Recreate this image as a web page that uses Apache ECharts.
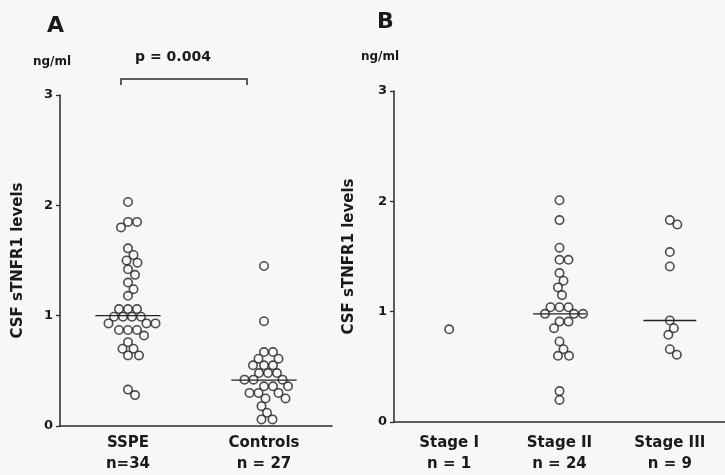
<!DOCTYPE html>
<html><head><meta charset="utf-8">
<script src="https://cdn.jsdelivr.net/npm/echarts@6/dist/echarts.min.js"></script>
<style>html,body{margin:0;padding:0;background:#f7f7f5}#c{width:725px;height:475px}</style>
</head><body><div id="c"></div>
<script>
// ---- data ----
const categoriesA = ['SSPE', 'Controls'];
const countsA = ['n=34', 'n = 27'];
const sspe = [2.03, 1.85, 1.85, 1.80, 1.61, 1.55, 1.50, 1.48, 1.42, 1.37, 1.30, 1.24, 1.18,
  1.06, 1.06, 1.06, 0.99, 0.99, 0.99, 0.99, 0.93, 0.93, 0.93, 0.87, 0.87, 0.87,
  0.82, 0.76, 0.70, 0.70, 0.64, 0.64, 0.33, 0.28];
const controls = [1.45, 0.95, 0.67, 0.67, 0.61, 0.61, 0.55, 0.55, 0.55, 0.48, 0.48, 0.48,
  0.42, 0.42, 0.42, 0.36, 0.36, 0.36, 0.30, 0.30, 0.30, 0.25, 0.25, 0.18, 0.12, 0.06, 0.06];
const mediansA = [1.0, 0.415];

const categoriesB = ['Stage I', 'Stage II', 'Stage III'];
const countsB = ['n = 1', 'n = 24', 'n = 9'];
const stageI = [0.84];
const stageII = [2.01, 1.83, 1.58, 1.47, 1.47, 1.35, 1.28, 1.22, 1.15, 1.04, 1.04, 1.04,
  0.98, 0.98, 0.98, 0.91, 0.91, 0.85, 0.73, 0.66, 0.60, 0.60, 0.28, 0.20];
const stageIII = [1.83, 1.79, 1.54, 1.41, 0.92, 0.85, 0.79, 0.66, 0.61];
const mediansB = [null, 0.98, 0.92];

const yTicks = [0, 1, 2, 3];
const yName = 'CSF sTNFR1 levels';
const unit = 'ng/ml';
const pText = 'p = 0.004';

// ---- layout ----
const gA = {left: 60, top: 95, width: 272, height: 335};
const gB = {left: 394, top: 91, width: 331, height: 333};
const FONT = 'DejaVu Sans';
const INK = '#1a1a1a';
const D = 8.6; // dot diameter in px for swarm spacing

function swarm(values, pxPerX, pxPerY) {
  const order = values.map((v, i) => i).sort((a, b) => values[b] - values[a]);
  const placed = [];
  const offs = new Array(values.length).fill(0);
  order.forEach(i => {
    const y = values[i] * pxPerY;
    let best = 0;
    for (let k = 0; k < 400; k++) {
      const cands = k === 0 ? [0] : [k * 0.5, -k * 0.5];
      let ok = null;
      for (const x of cands) {
        if (placed.every(p => Math.hypot(p.x - x, p.y - y) >= D)) { ok = x; break; }
      }
      if (ok !== null) { best = ok; break; }
    }
    placed.push({x: best, y});
    offs[i] = best / pxPerX;
  });
  return values.map((v, i) => [offs[i], v]);
}

function groupSeries(groups, grid, nCat, xIdx, yIdx) {
  const pxPerX = grid.width / nCat, pxPerY = grid.height / 3;
  return groups.map((vals, gi) => ({
    type: 'scatter', xAxisIndex: xIdx, yAxisIndex: yIdx,
    symbol: 'circle', symbolSize: 8.4,
    itemStyle: {color: '#f7f7f5', borderColor: '#222', borderWidth: 1.6},
    data: swarm(vals, pxPerX, pxPerY).map(([o, v]) => [gi + 0.5 + o, v]),
    z: 3
  }));
}
function medianSeries(meds, xIdx, yIdx, hw) {
  return meds.map((m, i) => m == null ? null : ({
    type: 'line', xAxisIndex: xIdx, yAxisIndex: yIdx, symbol: 'none', silent: true,
    lineStyle: {color: '#222', width: 1.3},
    data: [[i + 0.5 - hw, m], [i + 0.5 + hw, m]], z: 4
  })).filter(Boolean);
}

function yAxisCfg(gi, gap) {
  return {
    gridIndex: gi, type: 'value', min: 0, max: 3, interval: 1,
    name: yName, nameLocation: 'middle', nameRotate: 90, nameGap: gap,
    nameTextStyle: {fontFamily: FONT, fontWeight: 'bold', fontSize: 15, color: INK},
    axisLine: {show: true, lineStyle: {color: '#2a2a2a', width: 1.5}},
    axisTick: {show: true, length: 4, lineStyle: {color: '#2a2a2a', width: 1.3}},
    axisLabel: {fontFamily: FONT, fontWeight: 'bold', fontSize: 13, color: INK, margin: 7,
      formatter: v => yTicks.includes(v) ? String(v) : ''},
    splitLine: {show: false}
  };
}
function xCatCfg(gi, cats, counts, margin) {
  return {
    gridIndex: gi, type: 'category', data: cats.map((c, i) => c + '\n' + counts[i]),
    axisLine: {show: true, lineStyle: {color: '#2a2a2a', width: 1.5}},
    axisTick: {show: false},
    axisLabel: {fontFamily: FONT, fontWeight: 'bold', fontSize: 15, color: INK,
      lineHeight: 21, margin: margin, interval: 0}
  };
}

const chart = echarts.init(document.getElementById('c'), null, {renderer: 'canvas'});
const option = {
  backgroundColor: '#f7f7f5',
  animation: false,
  grid: [gA, gB],
  xAxis: [
    xCatCfg(0, categoriesA, countsA, 7),
    {gridIndex: 0, type: 'value', min: 0, max: 2, show: false},
    xCatCfg(1, categoriesB, countsB, 11),
    {gridIndex: 1, type: 'value', min: 0, max: 3, show: false}
  ],
  yAxis: [yAxisCfg(0, 34), yAxisCfg(1, 37)],
  series: [
    ...groupSeries([sspe, controls], gA, 2, 1, 0),
    ...medianSeries(mediansA, 1, 0, 0.24),
    ...groupSeries([stageI, stageII, stageIII], gB, 3, 3, 1),
    ...medianSeries(mediansB, 3, 1, 0.24)
  ],
  graphic: [
    {type: 'text', left: 47, top: 15, style: {text: 'A', fontFamily: FONT, fontWeight: 'bold', fontSize: 22, fill: INK}},
    {type: 'text', left: 377, top: 11, style: {text: 'B', fontFamily: FONT, fontWeight: 'bold', fontSize: 22, fill: INK}},
    {type: 'text', x: 52, y: 62, style: {text: unit, fontFamily: FONT, fontWeight: 'bold', fontSize: 12, fill: INK, align: 'center', verticalAlign: 'middle'}},
    {type: 'text', x: 380, y: 57, style: {text: unit, fontFamily: FONT, fontWeight: 'bold', fontSize: 12, fill: INK, align: 'center', verticalAlign: 'middle'}},
    {type: 'text', x: 173, y: 57, style: {text: pText, fontFamily: FONT, fontWeight: 'bold', fontSize: 14, fill: INK, align: 'center', verticalAlign: 'middle'}},
    {type: 'polyline', shape: {points: [[121, 85], [121, 79], [247, 79], [247, 85]]}, style: {stroke: '#2a2a2a', lineWidth: 1.5, fill: null}}
  ]
};
chart.setOption(option);
</script>
</body></html>
